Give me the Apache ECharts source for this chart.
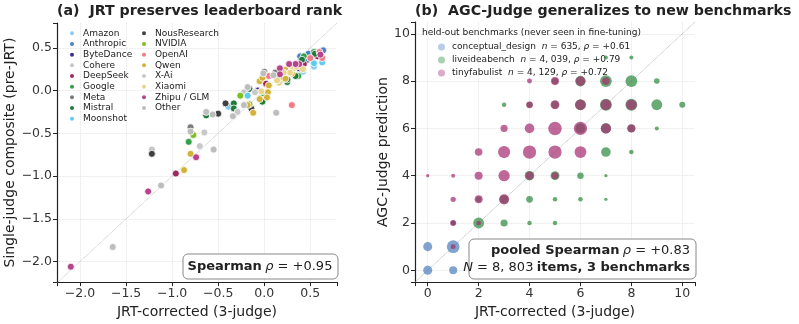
<!DOCTYPE html>
<html>
<head>
<meta charset="utf-8">
<script src="https://cdn.jsdelivr.net/npm/echarts@6/dist/echarts.min.js"></script>
<style>
  html, body { margin: 0; padding: 0; background: #fff; }
  #chart { width: 799px; height: 324px; }
</style>
</head>
<body>
<div id="chart"></div>
<script>
// ---- panel (a): provider points [JRT-corrected, single-judge] ----
const providers = ["Amazon", "Anthropic", "ByteDance", "Cohere", "DeepSeek", "Google", "Meta", "Mistral", "Moonshot",
  "NousResearch", "NVIDIA", "OpenAI", "Qwen", "X-Ai", "Xiaomi", "Zhipu / GLM", "Other"];
const providerColors = ["#87cdf0", "#4a80c0", "#3b2f8f", "#c6c6c6", "#9c2a5e", "#35a04a", "#7a7a7a", "#1f7a3a", "#5ecbf2",
  "#404040", "#7dbf1f", "#f07b86", "#d2b33a", "#c8c8c8", "#e8d58a", "#b5448c", "#bdbdbd"];
const pointsAmazon = [[0.54, 0.28], [-0.39, -0.19], [0.42, 0.22]];
const pointsAnthropic = [[0.64, 0.47], [0.48, 0.43], [0.39, 0.40], [0.47, 0.36]];
const pointsByteDance = [[0.38, 0.26], [-0.07, 0.00]];
const pointsCohere = [[-1.22, -0.69], [-0.22, -0.02], [0.31, 0.23]];
const pointsDeepSeek = [[-0.96, -0.97], [0.43, 0.31], [0.02, 0.08], [0.58, 0.40]];
const pointsGoogle = [[-0.82, -0.60], [0.43, 0.40], [0.37, 0.17], [0.54, 0.45], [-0.02, -0.03]];
const pointsMeta = [[-0.80, -0.43], [0.12, 0.21], [0.00, 0.22]];
const pointsMistral = [[-0.63, -0.29], [-0.33, -0.15], [-0.33, -0.21], [0.55, 0.43], [0.41, 0.36], [0.34, 0.17],
  [0.25, 0.10], [0.25, 0.13], [-0.16, 0.02], [-0.02, -0.13]];
const pointsMoonshot = [[-0.18, -0.06], [0.54, 0.32], [0.63, 0.33]];
const pointsNous = [[-1.22, -0.74], [-0.14, -0.21], [-0.42, -0.15], [-0.50, -0.27]];
const pointsNvidia = [[-0.77, -0.52], [-0.26, -0.06], [-0.16, -0.16]];
const pointsOpenAI = [[0.60, 0.45], [0.63, 0.38], [0.30, 0.29], [0.05, 0.17], [0.30, -0.17], [0.50, 0.38]];
const pointsQwen = [[-0.87, -0.93], [-0.80, -0.74], [0.23, 0.24], [0.30, 0.20], [-0.05, 0.11], [0.05, 0.06], [0.20, 0.13],
  [0.23, 0.14], [0.04, -0.02], [0.03, -0.08], [-0.05, -0.10], [-0.12, -0.26], [-0.18, -0.17], [-0.02, 0.15]];
const pointsXAi = [[-0.65, -0.49], [-0.70, -0.65], [-0.29, -0.25], [0.13, 0.15], [-0.10, -0.02]];
const pointsXiaomi = [[0.42, 0.25], [0.32, 0.26], [0.28, 0.21], [0.21, 0.21], [0.16, 0.09], [0.14, 0.12], [-0.03, -0.01], [0.35, 0.28]];
const pointsZhipu = [[-2.10, -2.06], [-1.26, -1.18], [-0.74, -0.78], [0.61, 0.42], [0.38, 0.31], [0.34, 0.31],
  [0.27, 0.31], [0.17, 0.26], [0.17, 0.19]];
const pointsOther = [[-1.645, -1.83], [-1.12, -1.11], [-0.55, -0.69], [-0.80, -0.48], [-0.63, -0.25], [-0.34, -0.30],
  [0.13, -0.26], [-0.22, -0.17], [-0.18, 0.04], [0.10, 0.18], [-0.01, 0.20], [-0.56, -0.28]];
const providerPoints = [pointsAmazon, pointsAnthropic, pointsByteDance, pointsCohere, pointsDeepSeek, pointsGoogle, pointsMeta,
  pointsMistral, pointsMoonshot, pointsNous, pointsNvidia, pointsOpenAI, pointsQwen, pointsXAi, pointsXiaomi, pointsZhipu, pointsOther];
const aRange = [-2.25, 0.79];
const aYRange = [-2.24, 0.79];

// ---- panel (b): jittered clusters [JRT score, AGC prediction, items] ----
const benchmarks = ["conceptual_design", "liveideabench", "tinyfabulist"];
const benchLabels = [
  ["635", "+0.61"],
  ["4, 039", "+0.79"],
  ["4, 129", "+0.72"]
];
const clustersConceptual = [[0, 0, 45], [0, 1, 45], [1, 1, 330], [1, 0, 25], [1, 2, 4], [2, 1, 8]];
const clustersLive = [[2, 2, 120], [3, 2, 15], [4, 2, 3], [5, 2, 3], [1, 2, 3], [2, 3, 6], [3, 3, 40], [4, 3, 12], [5, 3, 3],
  [6, 3, 3], [7, 3, 1], [4, 4, 60], [5, 4, 40], [6, 4, 10], [7, 4, 1], [7, 5, 60], [8, 5, 3], [6, 6, 80],
  [7, 6, 80], [8, 6, 20], [9, 6, 2], [3, 7, 3], [4, 7, 8], [5, 7, 20], [6, 7, 120], [7, 7, 200], [8, 7, 200], [9, 7, 120],
  [10, 7, 8], [5, 8, 10], [6, 8, 100], [7, 8, 200], [8, 8, 200], [9, 8, 6], [7, 9, 2], [8, 9, 2]];
const clustersTiny = [[1, 1, 4], [1, 2, 8], [2, 2, 3], [1, 3, 5], [2, 3, 25], [3, 3, 80], [0, 4, 1], [1, 4, 2], [2, 4, 25],
  [3, 4, 150], [4, 4, 30], [5, 4, 15], [2, 5, 20], [3, 5, 250], [4, 5, 450], [5, 5, 450], [6, 5, 200], [3, 6, 15],
  [4, 6, 60], [5, 6, 500], [6, 6, 450], [7, 6, 90], [8, 6, 30], [4, 7, 12], [5, 7, 40], [6, 7, 110], [7, 7, 120],
  [8, 7, 110], [4, 8, 4], [5, 8, 25], [6, 8, 60], [7, 8, 20]];
const benchColors = ["#4f81bd", "#2e8b3e", "#a52f72"];
const bRange = [-0.5, 10.5];

const chart = echarts.init(document.getElementById("chart"));
const FONT = "DejaVu Sans";

function fmtHalf(v) {
  if (Math.abs(v * 2 - Math.round(v * 2)) > 1e-6) return "";
  return v.toFixed(1).replace("-", "\u2212");
}
function fmtInt(v) {
  if (Math.abs(v - Math.round(v)) > 1e-6) return "";
  return String(Math.round(v));
}

const axisCommon = {
  axisLine: { show: true, onZero: false, lineStyle: { color: "#222", width: 1.2 } },
  axisTick: { show: true, length: 4, lineStyle: { color: "#222" } },
  splitLine: { show: true, showMinLine: false, showMaxLine: false,
    lineStyle: { color: "#dcdcdc", type: "dotted", width: 0.8 } },
  nameTextStyle: { fontFamily: FONT, fontSize: 14, color: "#222" },
  nameLocation: "middle"
};

let series = [];
providers.forEach((p, i) => {
  series.push({
    name: p,
    type: "scatter",
    xAxisIndex: 0, yAxisIndex: 0,
    symbolSize: 7,
    itemStyle: { color: providerColors[i], borderColor: "#fff", borderWidth: 0.8, opacity: 1 },
    data: providerPoints[i]
  });
});
series.push({
  type: "line", xAxisIndex: 0, yAxisIndex: 0, silent: true, symbol: "none", z: 1,
  lineStyle: { color: "#aaa", width: 0.8, type: "dotted" },
  data: [[aRange[0], aRange[0]], [aRange[1], aRange[1]]]
});
series.push({
  type: "line", xAxisIndex: 1, yAxisIndex: 1, silent: true, symbol: "none", z: 1,
  lineStyle: { color: "#999", width: 0.8, type: "dotted" },
  data: [[bRange[0], bRange[0]], [bRange[1], bRange[1]]]
});
[clustersConceptual, clustersLive, clustersTiny].forEach((cl, i) => {
  series.push({
    name: benchmarks[i],
    type: "scatter",
    xAxisIndex: 1, yAxisIndex: 1,
    symbolSize: d => 2 + 1.85 * Math.log(1 + d[2]),
    itemStyle: { color: benchColors[i], opacity: 0.72 },
    z: 3 + i,
    data: cl
  });
});

const boxText = {
  b: { fontFamily: FONT, fontSize: 13, fontWeight: "bold", fill: "#222" },
  i: { fontFamily: FONT, fontSize: 13, fontStyle: "italic", fill: "#222" },
  n: { fontFamily: FONT, fontSize: 13, fill: "#222" }
};

const option = {
  animation: false,
  textStyle: { fontFamily: FONT },
  title: [
    { text: "(a)  JRT preserves leaderboard rank", left: 57, top: 4, padding: 0,
      textStyle: { fontFamily: FONT, fontSize: 14.2, fontWeight: "bold", color: "#222" } },
    { text: "(b)  AGC-Judge generalizes to new benchmarks", left: 415, top: 4, padding: 0,
      textStyle: { fontFamily: FONT, fontSize: 14.2, fontWeight: "bold", color: "#222" } },
    { text: "held-out benchmarks (never seen in fine-tuning)", left: 422, top: 28, padding: 0,
      textStyle: { fontFamily: FONT, fontSize: 9, fontWeight: "normal", color: "#222" } }
  ],
  graphic: [
    { type: "rect", z: 100, shape: { x: 183, y: 254, width: 155, height: 25, r: 5 },
      style: { fill: "#fff", stroke: "#888", lineWidth: 1 } },
    { type: "text", z: 101, x: 260, y: 267,
      style: { text: "{b|Spearman} {i|\u03c1}{n| = +0.95}", align: "center", verticalAlign: "middle", rich: boxText } },
    { type: "rect", z: 100, shape: { x: 469, y: 239, width: 227, height: 40, r: 5 },
      style: { fill: "#fff", stroke: "#888", lineWidth: 1 } },
    { type: "text", z: 101, x: 690, y: 251,
      style: { text: "{b|pooled Spearman} {i|\u03c1}{n| = +0.83}", align: "right", verticalAlign: "middle", rich: boxText } },
    { type: "text", z: 101, x: 690, y: 268,
      style: { text: "{i|N}{n| = 8, 803} {b|items, 3 benchmarks}", align: "right", verticalAlign: "middle", rich: boxText } }
  ],
  legend: [
    { data: providers.slice(0, 9), orient: "vertical", left: 68, top: 28, icon: "circle",
      itemWidth: 6, itemHeight: 6, itemGap: 0, padding: 0,
      textStyle: { fontFamily: FONT, fontSize: 9, color: "#222", lineHeight: 10.67, padding: [0, 0, 0, 3] } },
    { data: providers.slice(9), orient: "vertical", left: 140, top: 28, icon: "circle",
      itemWidth: 6, itemHeight: 6, itemGap: 0, padding: 0,
      textStyle: { fontFamily: FONT, fontSize: 9, color: "#222", lineHeight: 10.67, padding: [0, 0, 0, 3] } },
    { data: benchmarks.map((b, i) => ({ name: b, itemStyle: { color: benchColors[i], opacity: 0.4 } })),
      orient: "vertical", left: 438, top: 41, icon: "circle",
      itemWidth: 7, itemHeight: 7, itemGap: 1, padding: 0,
      formatter: name => {
        const k = benchmarks.indexOf(name);
        return name + "  {i|n} = " + benchLabels[k][0] + ", {i|\u03c1} = " + benchLabels[k][1];
      },
      textStyle: { fontFamily: FONT, fontSize: 9, color: "#222", lineHeight: 12, padding: [0, 0, 0, 2],
        rich: { i: { fontFamily: FONT, fontSize: 9, fontStyle: "italic", color: "#222" } } } }
  ],
  grid: [
    { left: 57, top: 23, width: 280, height: 261 },
    { left: 415, top: 22, width: 280, height: 262 }
  ],
  xAxis: [
    Object.assign({}, axisCommon, { type: "value", gridIndex: 0, min: aRange[0], max: aRange[1], splitNumber: 6,
      name: "JRT-corrected (3-judge)", nameGap: 22,
      axisLabel: { formatter: fmtHalf, fontFamily: FONT, fontSize: 12.5, color: "#333", margin: 5 } }),
    Object.assign({}, axisCommon, { type: "value", gridIndex: 1, min: bRange[0], max: bRange[1], splitNumber: 5,
      name: "JRT-corrected (3-judge)", nameGap: 22,
      axisLabel: { formatter: fmtInt, fontFamily: FONT, fontSize: 12.5, color: "#333", margin: 5 } })
  ],
  yAxis: [
    Object.assign({}, axisCommon, { type: "value", gridIndex: 0, min: aYRange[0], max: aYRange[1], splitNumber: 6,
      name: "Single-judge composite (pre-JRT)", nameGap: 38,
      axisLabel: { formatter: fmtHalf, fontFamily: FONT, fontSize: 12.5, color: "#333", margin: 5 } }),
    Object.assign({}, axisCommon, { type: "value", gridIndex: 1, min: bRange[0], max: bRange[1], splitNumber: 5,
      name: "AGC-Judge prediction", nameGap: 24,
      axisLabel: { formatter: fmtInt, fontFamily: FONT, fontSize: 12.5, color: "#333", margin: 5 } })
  ],
  series: series
};

chart.setOption(option);
</script>
</body>
</html>
